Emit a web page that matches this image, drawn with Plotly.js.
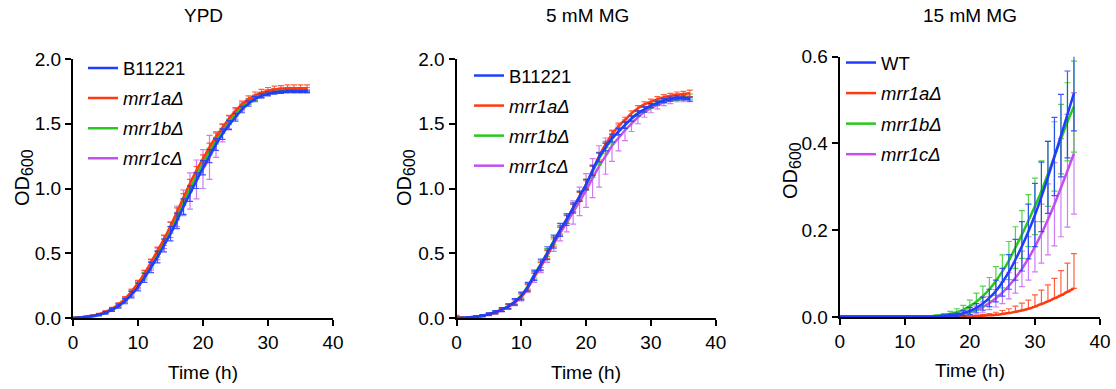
<!DOCTYPE html>
<html>
<head>
<meta charset="utf-8">
<script src="https://cdn.plot.ly/plotly-3.0.1.min.js"></script>
<style>html,body{margin:0;padding:0;background:#fff;}#chart{width:1116px;height:389px;}</style>
</head>
<body>
<div id="chart"></div>
<script>
// ---------- data ----------
const time = [0,1,2,3,4,5,6,7,8,9,10,11,12,13,14,15,16,17,18,19,20,21,22,23,24,25,26,27,28,29,30,31,32,33,34,35,36];

const panelTitles = ["YPD", "5 mM MG", "15 mM MG"];
const names1 = ["B11221", "<i>mrr1aΔ</i>", "<i>mrr1bΔ</i>", "<i>mrr1cΔ</i>"];
const names3 = ["WT", "<i>mrr1aΔ</i>", "<i>mrr1bΔ</i>", "<i>mrr1cΔ</i>"];

// YPD
const ypd_wt  = [0.00,0.004,0.008,0.015,0.025,0.04,0.062,0.092,0.13,0.18,0.24,0.31,0.39,0.47,0.56,0.65,0.75,0.86,0.96,1.06,1.16,1.25,1.34,1.42,1.49,1.55,1.61,1.655,1.69,1.715,1.73,1.74,1.745,1.75,1.75,1.75,1.75];
const ypd_a   = [0.00,0.005,0.01,0.018,0.03,0.048,0.072,0.105,0.15,0.205,0.27,0.345,0.43,0.52,0.61,0.71,0.82,0.93,1.04,1.14,1.23,1.32,1.40,1.47,1.54,1.60,1.65,1.69,1.72,1.74,1.755,1.765,1.77,1.775,1.775,1.775,1.775];
const ypd_b   = [0.00,0.004,0.009,0.016,0.027,0.044,0.067,0.098,0.14,0.19,0.255,0.33,0.41,0.495,0.585,0.68,0.785,0.895,1.00,1.10,1.195,1.285,1.37,1.445,1.515,1.575,1.63,1.67,1.70,1.725,1.74,1.75,1.755,1.76,1.76,1.76,1.76];
const ypd_c   = [0.00,0.004,0.009,0.016,0.027,0.044,0.067,0.098,0.14,0.19,0.255,0.33,0.41,0.495,0.585,0.68,0.785,0.89,0.98,1.07,1.15,1.24,1.34,1.43,1.51,1.575,1.63,1.67,1.70,1.72,1.74,1.75,1.755,1.76,1.76,1.76,1.76];
const ypd_wt_e = [0,0.002,0.003,0.005,0.008,0.01,0.012,0.015,0.02,0.025,0.03,0.035,0.04,0.045,0.05,0.055,0.06,0.06,0.06,0.06,0.055,0.05,0.045,0.04,0.035,0.03,0.025,0.02,0.02,0.015,0.015,0.01,0.01,0.01,0.01,0.01,0.01];
const ypd_a_e  = [0,0.002,0.003,0.004,0.006,0.008,0.01,0.012,0.015,0.018,0.02,0.022,0.025,0.028,0.03,0.03,0.03,0.03,0.03,0.03,0.03,0.03,0.03,0.025,0.025,0.025,0.025,0.025,0.025,0.025,0.025,0.025,0.025,0.025,0.025,0.025,0.025];
const ypd_b_e  = [0,0.002,0.003,0.004,0.006,0.008,0.01,0.012,0.015,0.018,0.02,0.022,0.025,0.025,0.025,0.025,0.025,0.025,0.025,0.025,0.025,0.025,0.025,0.02,0.02,0.02,0.02,0.02,0.02,0.02,0.02,0.02,0.02,0.02,0.02,0.02,0.02];
const ypd_c_e  = [0,0.002,0.003,0.005,0.007,0.01,0.012,0.015,0.02,0.025,0.03,0.035,0.04,0.045,0.05,0.06,0.08,0.10,0.14,0.15,0.15,0.17,0.10,0.07,0.05,0.04,0.03,0.025,0.02,0.02,0.02,0.02,0.02,0.02,0.02,0.02,0.02];

// 5 mM MG
const mg5_wt = [0.00,0.002,0.005,0.01,0.018,0.03,0.045,0.065,0.09,0.125,0.17,0.24,0.33,0.41,0.50,0.59,0.68,0.76,0.85,0.94,1.03,1.14,1.24,1.32,1.39,1.44,1.49,1.54,1.58,1.61,1.64,1.66,1.68,1.69,1.70,1.70,1.69];
const mg5_a  = [0.01,0.002,0.005,0.01,0.017,0.028,0.042,0.062,0.088,0.122,0.165,0.235,0.32,0.40,0.49,0.58,0.67,0.76,0.85,0.94,1.03,1.14,1.25,1.34,1.42,1.48,1.53,1.58,1.62,1.65,1.67,1.69,1.705,1.715,1.725,1.73,1.735];
const mg5_b  = [0.00,0.002,0.005,0.01,0.018,0.03,0.046,0.066,0.092,0.128,0.175,0.245,0.335,0.415,0.505,0.595,0.68,0.765,0.85,0.94,1.03,1.13,1.23,1.31,1.38,1.44,1.49,1.54,1.58,1.61,1.64,1.66,1.68,1.695,1.70,1.705,1.71];
const mg5_c  = [0.00,0.002,0.005,0.01,0.017,0.028,0.042,0.062,0.087,0.12,0.162,0.23,0.315,0.395,0.48,0.57,0.655,0.735,0.815,0.90,0.985,1.08,1.17,1.25,1.33,1.39,1.45,1.50,1.55,1.59,1.62,1.645,1.665,1.68,1.69,1.69,1.69];
const mg5_wt_e = [0,0.002,0.003,0.005,0.008,0.01,0.012,0.015,0.02,0.025,0.03,0.035,0.04,0.045,0.05,0.05,0.05,0.045,0.04,0.04,0.04,0.04,0.035,0.03,0.03,0.025,0.025,0.02,0.02,0.02,0.015,0.015,0.015,0.015,0.015,0.015,0.015];
const mg5_a_e  = [0.01,0.002,0.003,0.004,0.006,0.008,0.01,0.012,0.015,0.018,0.02,0.022,0.025,0.028,0.03,0.03,0.03,0.03,0.03,0.03,0.03,0.03,0.03,0.025,0.025,0.025,0.02,0.02,0.02,0.02,0.02,0.02,0.02,0.02,0.02,0.02,0.025];
const mg5_b_e  = [0,0.002,0.003,0.004,0.006,0.008,0.01,0.012,0.015,0.018,0.02,0.022,0.025,0.025,0.03,0.03,0.03,0.03,0.03,0.035,0.04,0.045,0.045,0.04,0.035,0.03,0.025,0.02,0.02,0.02,0.02,0.02,0.02,0.02,0.02,0.02,0.02];
const mg5_c_e  = [0,0.002,0.003,0.005,0.007,0.01,0.012,0.015,0.02,0.025,0.03,0.035,0.04,0.045,0.05,0.055,0.06,0.07,0.09,0.11,0.13,0.15,0.16,0.14,0.12,0.10,0.08,0.06,0.05,0.04,0.035,0.03,0.025,0.025,0.02,0.02,0.02];

// 15 mM MG
const mg15_wt = [0.001,0.001,0.001,0.001,0.001,0.001,0.001,0.001,0.001,0.001,0.001,0.001,0.001,0.001,0.001,0.002,0.003,0.004,0.005,0.009,0.014,0.021,0.031,0.044,0.06,0.08,0.104,0.132,0.163,0.197,0.235,0.277,0.322,0.37,0.418,0.467,0.516];
const mg15_a  = [0.001,0.001,0.001,0.001,0.001,0.001,0.001,0.001,0.001,0.001,0.001,0.001,0.001,0.001,0.001,0.001,0.001,0.001,0.001,0.001,0.001,0.002,0.003,0.004,0.005,0.007,0.009,0.012,0.015,0.019,0.024,0.03,0.036,0.043,0.05,0.058,0.066];
const mg15_b  = [0.001,0.001,0.001,0.001,0.001,0.001,0.001,0.001,0.001,0.001,0.001,0.001,0.001,0.001,0.002,0.003,0.004,0.007,0.011,0.017,0.025,0.035,0.048,0.064,0.083,0.105,0.13,0.16,0.19,0.222,0.255,0.29,0.33,0.37,0.41,0.45,0.485];
const mg15_c  = [0.001,0.001,0.001,0.001,0.001,0.001,0.001,0.001,0.001,0.001,0.001,0.001,0.001,0.001,0.001,0.001,0.002,0.003,0.004,0.007,0.011,0.016,0.023,0.032,0.043,0.056,0.072,0.09,0.111,0.135,0.162,0.192,0.225,0.26,0.298,0.337,0.377];
const mg15_wt_e = [0,0,0,0,0,0,0,0,0,0,0,0,0,0,0,0,0.002,0.003,0.004,0.006,0.008,0.01,0.015,0.02,0.025,0.032,0.04,0.047,0.057,0.063,0.073,0.08,0.083,0.09,0.095,0.10,0.087];
const mg15_a_e  = [0,0,0,0,0,0,0,0,0,0,0,0,0,0,0,0,0,0,0.001,0.001,0.002,0.002,0.003,0.004,0.006,0.008,0.01,0.013,0.017,0.02,0.027,0.032,0.038,0.046,0.057,0.066,0.08];
const mg15_b_e  = [0,0,0,0,0,0,0,0,0,0,0,0,0,0,0,0.002,0.004,0.006,0.008,0.01,0.014,0.02,0.023,0.027,0.033,0.038,0.044,0.048,0.055,0.06,0.065,0.07,0.075,0.08,0.08,0.09,0.105];
const mg15_c_e  = [0,0,0,0,0,0,0,0,0,0,0,0,0,0,0,0,0.002,0.003,0.004,0.005,0.007,0.009,0.012,0.015,0.02,0.025,0.03,0.035,0.041,0.05,0.058,0.068,0.082,0.096,0.113,0.13,0.14];
const zeros = time.map(() => 0);

// ---------- style ----------
const colors = {wt: "#1f3dff", a: "#ff3a10", b: "#28c81e", c: "#c24ff0"};
const errColors = {wt: "rgba(31,61,255,0.85)", a: "rgba(255,58,16,0.8)", b: "rgba(40,200,30,0.8)", c: "rgba(194,79,240,0.75)"};
const ranks = {wt: 1, a: 2, b: 3, c: 4};
const FONT = 'Arial, "Liberation Sans", Helvetica, sans-serif';

let gid = 0;
function tr(y, err, errMinus, key, name, xa, ya, leg) {
  const e = {type: "data", array: err, visible: true, color: errColors[key], thickness: 1.2, width: 3};
  if (errMinus) { e.symmetric = false; e.arrayminus = errMinus; }
  gid++;
  return {
    x: time, y: y, type: "scatter", mode: "lines", name: name, legendgroup: "g" + gid, legendrank: ranks[key],
    line: {color: colors[key], width: 2.5, shape: "spline", smoothing: 0.6},
    error_y: e, xaxis: xa, yaxis: ya, legend: leg, hoverinfo: "skip"
  };
}

const data = [
  tr(ypd_c, ypd_c_e, null, "c", names1[3], "x", "y", "legend"),
  tr(ypd_b, ypd_b_e, null, "b", names1[2], "x", "y", "legend"),
  tr(ypd_a, ypd_a_e, null, "a", names1[1], "x", "y", "legend"),
  tr(ypd_wt, ypd_wt_e, null, "wt", names1[0], "x", "y", "legend"),
  tr(mg5_c, mg5_c_e, null, "c", names1[3], "x2", "y2", "legend2"),
  tr(mg5_b, mg5_b_e, null, "b", names1[2], "x2", "y2", "legend2"),
  tr(mg5_a, mg5_a_e, null, "a", names1[1], "x2", "y2", "legend2"),
  tr(mg5_wt, mg5_wt_e, null, "wt", names1[0], "x2", "y2", "legend2"),
  tr(mg15_c, mg15_c_e, null, "c", names3[3], "x3", "y3", "legend3"),
  tr(mg15_b, mg15_b_e, null, "b", names3[2], "x3", "y3", "legend3"),
  tr(mg15_a, mg15_a_e, zeros, "a", names3[1], "x3", "y3", "legend3"),
  tr(mg15_wt, mg15_wt_e, null, "wt", names3[0], "x3", "y3", "legend3")
];

const W = 1116, H = 389;
const px = v => v / W;
const py = v => 1 - v / H;

function xax(d0, d1, anchor) {
  return {domain: [px(d0), px(d1)], anchor: anchor, range: [0, 40], dtick: 10, tick0: 0,
    showline: true, linewidth: 2, linecolor: "#000", ticks: "outside", ticklen: 6, tickwidth: 2, tickcolor: "#000",
    showgrid: false, zeroline: false, tickfont: {family: FONT, size: 19, color: "#000"}, fixedrange: true};
}
function yax(top, bottom, anchor, max, dt) {
  return {domain: [py(bottom), py(top)], anchor: anchor, range: [0, max], dtick: dt, tick0: 0, tickformat: ".1f",
    showline: true, linewidth: 2, linecolor: "#000", ticks: "outside", ticklen: 6, tickwidth: 2, tickcolor: "#000",
    showgrid: false, zeroline: false, tickfont: {family: FONT, size: 19, color: "#000"}, fixedrange: true};
}
function leg(x, y, gap) {
  return {x: px(x), y: py(y), xanchor: "left", yanchor: "top", xref: "paper", yref: "paper",
    traceorder: "grouped", tracegroupgap: gap, bgcolor: "rgba(0,0,0,0)", borderwidth: 0,
    font: {family: FONT, size: 18.5, color: "#000"}, itemclick: false, itemdoubleclick: false};
}

const ann = [];
function txt(x, y, text, size, angle) {
  ann.push({x: px(x), y: py(y), xref: "paper", yref: "paper", text: text, showarrow: false,
    xanchor: "center", yanchor: "middle", textangle: angle || 0,
    font: {family: FONT, size: size, color: "#000"}});
}
const odText = 'OD<sub><span style="font-size:16px">600</span></sub>';
txt(203, 16, panelTitles[0], 19);
txt(587, 16, panelTitles[1], 19);
txt(970, 15, panelTitles[2], 19);
txt(203, 372, "Time (h)", 19);
txt(586, 372, "Time (h)", 19);
txt(970, 370, "Time (h)", 19);
txt(23, 178, odText, 20, -90);
txt(405, 178, odText, 20, -90);
txt(791, 171, odText, 20, -90);

const layout = {
  width: W, height: H, margin: {l: 0, r: 0, t: 0, b: 0}, paper_bgcolor: "#fff", plot_bgcolor: "#fff",
  showlegend: true, font: {family: FONT, color: "#000"},
  xaxis: xax(73, 333, "y"), yaxis: yax(59, 318, "x", 2.0, 0.5),
  xaxis2: xax(456.5, 715.7, "y2"), yaxis2: yax(59, 318, "x2", 2.0, 0.5),
  xaxis3: xax(839.7, 1100, "y3"), yaxis3: yax(56.7, 317, "x3", 0.6, 0.2),
  legend: leg(83, 49.5, 3), legend2: leg(469, 57, 3), legend3: leg(841, 44, 3.5),
  annotations: ann
};

Plotly.newPlot("chart", data, layout, {displayModeBar: false, staticPlot: true});
</script>
</body>
</html>
